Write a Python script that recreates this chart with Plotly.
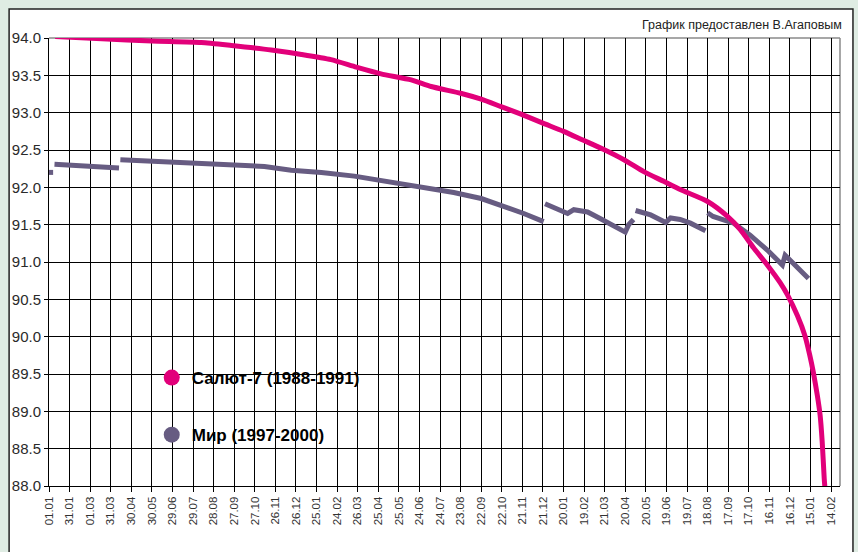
import plotly.graph_objects as go

# ---- tick labels (every 30 days starting 01.01.1988) ----
tick_labels = ["01.01", "31.01", "01.03", "31.03", "30.04", "30.05", "29.06", "29.07",
               "28.08", "27.09", "27.10", "26.11", "26.12", "25.01", "24.02", "26.03",
               "25.04", "25.05", "24.06", "24.07", "23.08", "22.09", "22.10", "21.11",
               "21.12", "20.01", "19.02", "21.03", "20.04", "20.05", "19.06", "19.07",
               "18.08", "17.09", "17.10", "16.11", "16.12", "15.01", "14.02"]
tick_days = [30 * i for i in range(len(tick_labels))]

y_ticks = [88.0 + 0.5 * i for i in range(13)]

# ---- Салют-7 (days since start) ----
salyut_days = [9, 77, 150, 222, 266, 324, 368, 411, 448, 484, 528, 557, 600, 630,
               659, 688, 720, 750, 779, 808, 838, 867, 896, 920, 960, 989, 1008,
               1027, 1047, 1066, 1077, 1091, 1102, 1109, 1114, 1120, 1124, 1127,
               1130, 1131]
salyut_vals = [94.02, 93.99, 93.96, 93.94, 93.90, 93.84, 93.78, 93.71, 93.61, 93.52,
               93.44, 93.35, 93.26, 93.18, 93.08, 92.98, 92.86, 92.75, 92.63, 92.51,
               92.37, 92.21, 92.08, 91.97, 91.81, 91.61, 91.43, 91.19, 90.96, 90.72,
               90.55, 90.28, 90.01, 89.75, 89.53, 89.21, 88.95, 88.60, 88.10, 87.98]

# ---- Мир (segments separated by None) ----
mir_days = [0, 6, None,
            8, 102, None,
            104, 179, 222, 266, 314, 353, 397, 445, 494, 542, 590, 630, 663, 692, 721, None,
            723, 756, 765, 785, 804, 833, 840, 845, 852, None,
            855, 877, 899, 906, 920, 935, 957, None,
            960, 968, 998, 1022, 1047, 1069, 1073, 1083, 1107]
mir_vals = [92.20, 92.20, None,
            92.31, 92.26, None,
            92.37, 92.34, 92.33, 92.31, 92.28, 92.23, 92.20, 92.15, 92.08, 92.00, 91.93,
            91.85, 91.75, 91.65, 91.54, None,
            91.78, 91.65, 91.70, 91.67, 91.58, 91.45, 91.40, 91.50, 91.57, None,
            91.69, 91.63, 91.53, 91.59, 91.57, 91.52, 91.42, None,
            91.66, 91.61, 91.52, 91.36, 91.16, 90.96, 91.09, 91.00, 90.78]

PINK = "#e2007a"
MIR = "#675c82"

fig = go.Figure()
fig.add_trace(go.Scatter(x=mir_days, y=mir_vals, mode="lines", connectgaps=False,
                         line=dict(color=MIR, width=5), showlegend=False,
                         hoverinfo="skip"))
fig.add_trace(go.Scatter(x=salyut_days, y=salyut_vals, mode="lines",
                         line=dict(color=PINK, width=5, shape="spline", smoothing=0.6),
                         showlegend=False, hoverinfo="skip"))
# legend-only entries
fig.add_trace(go.Scatter(x=[None], y=[None], mode="markers", name="Салют-7 (1988-1991)",
                         marker=dict(color=PINK, size=17), legendgroup="a"))
fig.add_trace(go.Scatter(x=[None], y=[None], mode="markers", name="Мир (1997-2000)",
                         marker=dict(color=MIR, size=17), legendgroup="b"))

L, R, T, B = 47, 18, 38, 66
W, H = 858, 552
pw, ph = W - L - R, H - T - B

def px2x(px):
    return (px - L) / pw

def py2y(py):
    return (H - B - py) / ph

fig.update_layout(
    width=W, height=H, autosize=False,
    margin=dict(l=L, r=R, t=T, b=B, pad=0),
    paper_bgcolor="#dfece3",
    plot_bgcolor="white",
    font=dict(family="Liberation Sans, Arial, sans-serif", color="#333333"),
    xaxis=dict(range=[0, 1153], tickmode="array", tickvals=tick_days, ticktext=tick_labels,
               tickangle=-90, tickfont=dict(size=11.5, color="#333333"),
               showgrid=True, gridcolor="black", gridwidth=1,
               showline=True, linecolor="black", linewidth=1,
               ticks="outside", ticklen=5, tickcolor="black", zeroline=False),
    yaxis=dict(range=[88, 94], tickmode="array", tickvals=y_ticks, tickformat=".1f",
               tickfont=dict(size=15, color="#2a2a2a"),
               showgrid=True, gridcolor="black", gridwidth=1,
               showline=True, linecolor="black", linewidth=1,
               ticks="outside", ticklen=4, tickcolor="black", zeroline=False),
    legend=dict(x=px2x(150), y=py2y(360), xanchor="left", yanchor="top",
                bgcolor="rgba(0,0,0,0)", borderwidth=0, tracegroupgap=32,
                font=dict(size=17, color="black", family="Liberation Sans, Arial, sans-serif",
                          weight="bold"),
                itemsizing="trace"),
    shapes=[
        dict(type="rect", xref="paper", yref="paper", x0=px2x(7), x1=px2x(853),
             y0=py2y(600), y1=py2y(9), fillcolor="white",
             line=dict(color="#222222", width=1.5), layer="below"),
        dict(type="line", xref="paper", yref="paper", x0=0, x1=1, y0=1, y1=1,
             line=dict(color="#8a8a8a", width=1.5), layer="below"),
        dict(type="line", xref="paper", yref="paper", x0=1, x1=1, y0=0, y1=1,
             line=dict(color="#8a8a8a", width=1.5), layer="below"),
    ],
    annotations=[
        dict(text="График предоставлен В.Агаповым", xref="paper", yref="paper",
             x=px2x(844), y=py2y(25), xanchor="right", yanchor="middle", showarrow=False,
             font=dict(size=12.5, color="#222222", family="Liberation Sans, Arial, sans-serif")),
    ],
)

fig.write_html("out.html", config={"displayModeBar": False},
               post_script="document.body.style.margin='0';document.body.style.padding='0';")
